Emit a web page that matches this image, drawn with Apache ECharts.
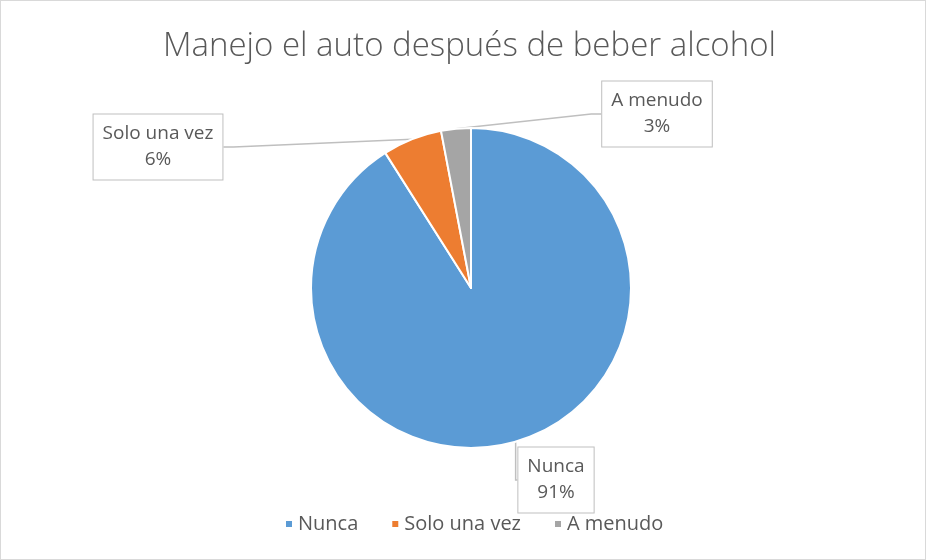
<!DOCTYPE html>
<html>
<head>
<meta charset="utf-8">
<script src="https://cdn.jsdelivr.net/npm/echarts@6/dist/echarts.min.js"></script>
<style>
  html, body { margin: 0; padding: 0; background: #fff; }
  #pie { width: 924px; height: 558px; border: 1px solid #d9d9d9; }
</style>
</head>
<body>
<div id="pie"></div>
<script>
var categorias = ['Nunca', 'Solo una vez', 'A menudo'];
var valores = [91, 6, 3];
var colores = ['#5B9BD5', '#ED7D31', '#A5A5A5'];

// where each callout box sits (center of the box)
var cajas = [[555, 479], [157, 146], [656, 113]];

var datos = categorias.map(function (c, i) {
    return { name: c, value: valores[i], itemStyle: { color: colores[i] } };
});

var option = {
    backgroundColor: '#fff',
    animation: false,
    title: {
        text: 'Manejo el auto después de beber alcohol',
        left: 157,
        top: 24,
        textStyle: {
            color: '#595959',
            fontFamily: 'Open Sans',
            fontWeight: 300,
            fontSize: 33
        }
    },
    legend: {
        bottom: 20,
        left: 278,
        itemWidth: 8,
        itemHeight: 8,
        itemGap: 32,
        icon: 'rect',
        textStyle: {
            color: '#595959',
            fontFamily: 'Open Sans',
            fontSize: 20
        },
        data: categorias
    },
    series: [{
        type: 'pie',
        radius: 160,
        center: [470, 287],
        startAngle: 90,
        clockwise: true,
        data: datos,
        itemStyle: {
            borderColor: '#fff',
            borderWidth: 2
        },
        label: {
            show: true,
            formatter: '{b}\n{d}%',
            color: '#595959',
            fontFamily: 'Open Sans',
            fontSize: 19,
            lineHeight: 26,
            align: 'center',
            backgroundColor: '#fff',
            borderColor: '#bfbfbf',
            borderWidth: 1,
            padding: [7, 9, 6, 9]
        },
        labelLine: {
            show: true,
            length: 10,
            length2: 10,
            lineStyle: { color: '#bfbfbf', width: 1.5 }
        },
        labelLayout: function (p) {
            var c = cajas[p.dataIndex];
            return {
                x: c[0],
                y: c[1],
                align: 'center',
                verticalAlign: 'middle'
            };
        }
    }]
};

var myChart = echarts.init(document.getElementById('pie'));
myChart.setOption(option);
</script>
</body>
</html>
